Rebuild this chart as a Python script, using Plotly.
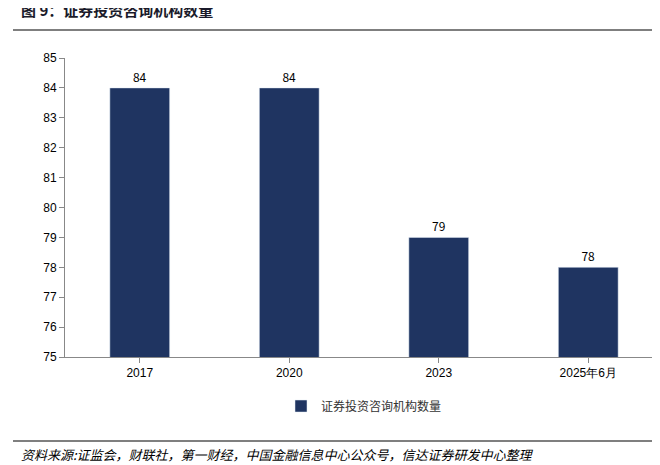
import plotly.graph_objects as go

categories = ["2017", "2020", "2023", "2025年6月"]
values = [84, 84, 79, 78]
series_name = "证券投资咨询机构数量"
title_text = "图 9：证券投资咨询机构数量"
source_text = "资料来源:证监会，财联社，第一财经，中国金融信息中心公众号，信达证券研发中心整理"

font = "Noto Sans CJK SC"
bar_color = "#1f3461"

fig = go.Figure()
fig.add_trace(go.Bar(
    x=categories,
    y=values,
    name=series_name,
    marker=dict(color=bar_color),
    width=0.4,
    text=[str(v) for v in values],
    textposition="outside",
    textfont=dict(size=12, color="#000000"),
    cliponaxis=False,
))

fig.update_layout(
    width=660, height=465,
    paper_bgcolor="white", plot_bgcolor="white",
    margin=dict(l=57, r=5, t=50, b=116),
    font=dict(family=font, size=12, color="#000000"),
    bargap=0.6,
    showlegend=True,
    legend=dict(orientation="h", x=0.5, xanchor="center", y=-0.164, yanchor="middle",
                font=dict(size=12, color="#333333")),
    xaxis=dict(showline=True, linecolor="#888888", ticks="outside", tickcolor="#888888",
               ticklen=5, showgrid=False, tickfont=dict(size=12, family="Liberation Sans")),
    yaxis=dict(range=[75, 85], dtick=1, showline=True, linecolor="#888888",
               ticks="outside", tickcolor="#888888", ticklen=5, showgrid=False,
               tickfont=dict(size=12, family="Liberation Sans")),
    shapes=[
        dict(type="line", xref="paper", yref="paper", x0=-0.087, x1=1.008,
             y0=1.094, y1=1.094, line=dict(color="#555555", width=1.5)),
        dict(type="line", xref="paper", yref="paper", x0=-0.087, x1=1.008,
             y0=-0.281, y1=-0.281, line=dict(color="#555555", width=1.5)),
    ],
    annotations=[
        dict(text=title_text, xref="paper", yref="paper", x=-0.077, y=1.12,
             xanchor="left", yanchor="bottom", showarrow=False,
             font=dict(size=15, color="#1a1a2a", family=font, weight="bold")),
        dict(text="<i>" + source_text + "</i>", xref="paper", yref="paper",
             x=-0.077, y=-0.288, xanchor="left", yanchor="top", showarrow=False,
             font=dict(size=13, color="#000000", family=font)),
    ],
)

fig.write_html("out.html")
